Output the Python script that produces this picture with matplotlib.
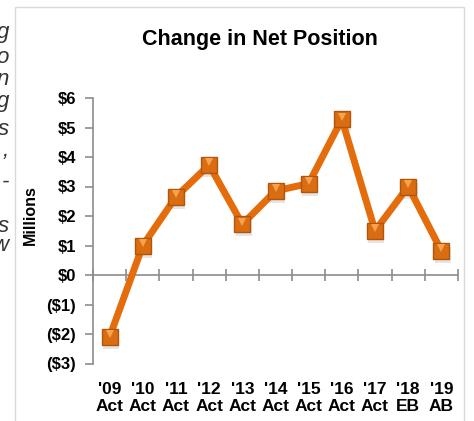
import matplotlib
matplotlib.use("Agg")
import matplotlib.pyplot as plt
from matplotlib.patches import Rectangle
from matplotlib.transforms import blended_transform_factory

years = ["'09", "'10", "'11", "'12", "'13", "'14", "'15", "'16", "'17", "'18", "'19"]
kinds = ["Act", "Act", "Act", "Act", "Act", "Act", "Act", "Act", "Act", "EB", "AB"]
values = [-2.1, 1.0, 2.65, 3.73, 1.72, 2.85, 3.1, 5.28, 1.5, 3.0, 0.82]
ytick_vals = [-3, -2, -1, 0, 1, 2, 3, 4, 5, 6]
ytick_labels = ["($3)", "($2)", "($1)", "$0", "$1", "$2", "$3", "$4", "$5", "$6"]
side_letters = ["g", "o", "n", "g", "s", ",", "-", "s", "w"]
side_baseline = [38, 63, 85, 107, 135, 156, 188, 232, 251]

plt.rcParams['font.family'] = ['Liberation Sans', 'DejaVu Sans']

W, H = 474, 421
fig = plt.figure(figsize=(W / 100, H / 100), dpi=100)

# chart border box
fig.add_artist(Rectangle((15 / W, -0.05), (464 - 15) / W, 1.05 - 7 / H,
                         transform=fig.transFigure, fill=False,
                         edgecolor="#D9D9D9", linewidth=1.0))

# cropped text fragments on the left
for s, yy in zip(side_letters, side_baseline):
    fig.text(9 / W, 1 - yy / H, s, ha="right", va="baseline", fontsize=16,
             style="italic", color="#333333")

left, right = 93 / W, 458 / W
top, bottom = 1 - 98 / H, 1 - 363.5 / H
ax = fig.add_axes([left, bottom, right - left, top - bottom])

x = list(range(len(values)))
gray = "#8C8C8C"

# shadow
ax.plot([xi + 0.04 for xi in x], [v - 0.14 for v in values], 's', ms=12,
        color="#000000", alpha=0.10, zorder=2, markeredgewidth=0)
ax.plot(x, values, '-', color="#E46C0A", lw=5, zorder=3, solid_capstyle="butt")
ax.plot(x, values, 's', ms=11, markerfacecolor="#DA6D12",
        markeredgecolor="#B0560C", markeredgewidth=1.0, zorder=4)
ax.plot(x, [v + 0.09 for v in values], 'v', ms=6, color="#F7A34D",
        markeredgewidth=0, zorder=5)

ax.set_xlim(-0.5, len(values) - 0.5)
ax.set_ylim(-3, 6)

for sp in ["top", "right"]:
    ax.spines[sp].set_visible(False)
ax.spines["bottom"].set_position(("data", 0))
ax.spines["bottom"].set_color(gray)
ax.spines["left"].set_color(gray)
ax.spines["bottom"].set_linewidth(1.2)
ax.spines["left"].set_linewidth(1.2)

ax.set_yticks(ytick_vals)
ax.set_yticklabels(ytick_labels, fontsize=12, fontweight="bold")
ax.tick_params(axis="y", direction="out", length=6, width=1.2, color=gray, pad=6)

ax.set_xticks([i - 0.5 for i in range(len(values) + 1)])
ax.set_xticklabels([])
ax.tick_params(axis="x", direction="inout", length=8, width=1.2, color=gray)

trans = blended_transform_factory(ax.transData, ax.transAxes)
for i, (yr, k) in enumerate(zip(years, kinds)):
    ax.text(i, -0.068, yr + "\n" + k, transform=trans, ha="center", va="top",
            fontsize=12.5, fontweight="bold", linespacing=1.2)

fig.text(30 / W, 1 - 215 / H, "Millions", rotation=90, ha="center", va="center",
         fontsize=11.5, fontweight="bold")
fig.text(260 / W, 1 - 40 / H, "Change in Net Position", ha="center", va="center",
         fontsize=15.5, fontweight="bold")

fig.savefig("out.png", dpi=100)
